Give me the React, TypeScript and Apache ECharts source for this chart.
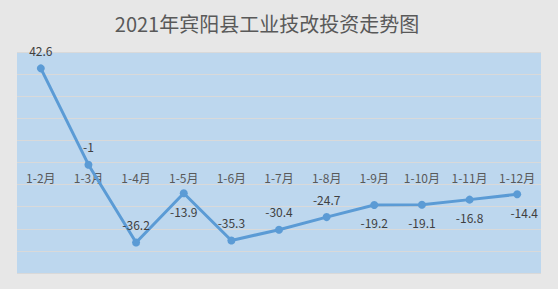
import React, { useEffect, useRef } from "react";
import * as echarts from "echarts";

const categories = ["1-2月", "1-3月", "1-4月", "1-5月", "1-6月", "1-7月", "1-8月", "1-9月", "1-10月", "1-11月", "1-12月"];
const values = [42.6, -1, -36.2, -13.9, -35.3, -30.4, -24.7, -19.2, -19.1, -16.8, -14.4];
const labelBelow = [false, false, false, true, false, false, false, true, true, true, true];
const titleText = "2021年宾阳县工业技改投资走势图";

export default function App() {
  const ref = useRef<HTMLDivElement>(null);
  useEffect(() => {
    document.body.style.margin = "0";
    const chart = echarts.init(ref.current!, null, { renderer: "svg" });
    chart.setOption({
      animation: false,
      backgroundColor: "#e7e7e7",
      textStyle: { fontFamily: "'Noto Sans CJK SC', 'Noto Sans', sans-serif" },
      title: {
        text: titleText,
        left: 262,
        textAlign: "center",
        top: 8,
        textStyle: { fontSize: 20, fontWeight: "normal", color: "#595959" },
      },
      grid: {
        left: 17,
        right: 17,
        top: 52,
        bottom: 16,
        show: true,
        backgroundColor: "#bdd7ee",
        borderWidth: 0,
      },
      xAxis: {
        type: "category",
        data: categories,
        boundaryGap: true,
        position: "bottom",
        offset: -110.5,
        axisLine: { show: false, onZero: false },
        axisTick: { show: false },
        axisLabel: { color: "#595959", fontSize: 12, margin: 9 },
      },
      yAxis: {
        type: "value",
        min: -50,
        max: 50,
        interval: 10,
        axisLabel: { show: false },
        axisLine: { show: false },
        axisTick: { show: false },
        splitLine: { show: true, lineStyle: { color: "#d9d9d9", width: 1 } },
      },
      series: [
        {
          type: "line",
          data: values.map((v, i) => ({
            value: v,
            label: {
              position: labelBelow[i] ? "bottom" : "top",
              offset: i === values.length - 1 ? [7, 0] : [0, 0],
            },
          })),
          symbol: "circle",
          symbolSize: 8,
          lineStyle: { color: "#5b9bd5", width: 3 },
          itemStyle: { color: "#5b9bd5" },
          label: {
            show: true,
            color: "#404040",
            fontSize: 12,
            distance: 8,
          },
        },
      ],
    });
    return () => chart.dispose();
  }, []);
  return <div ref={ref} style={{ width: 558, height: 289 }} />;
}
